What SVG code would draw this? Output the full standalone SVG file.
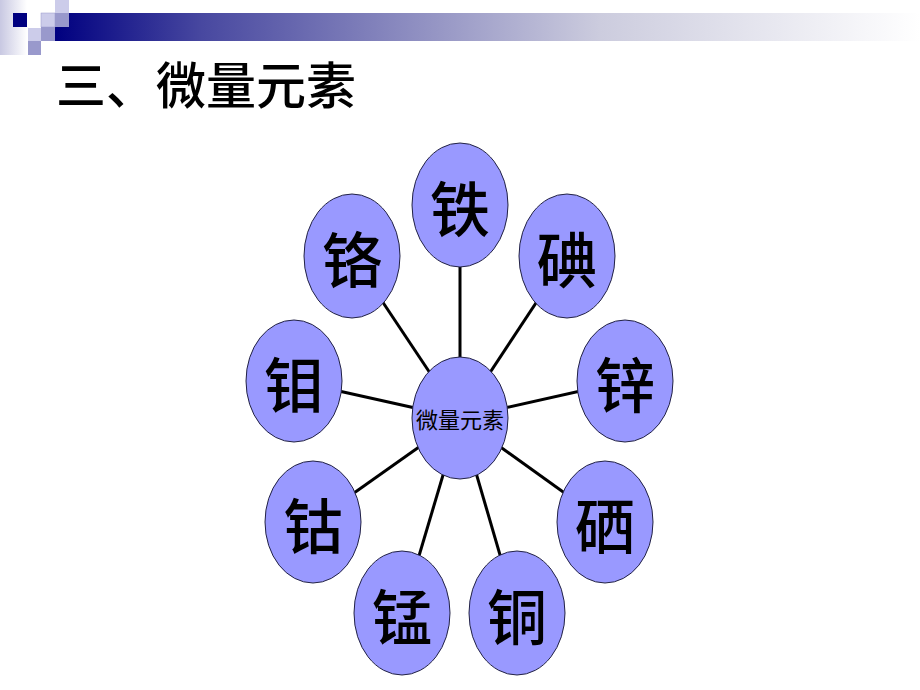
<svg xmlns="http://www.w3.org/2000/svg" width="920" height="690" viewBox="0 0 920 690">
<defs>
<linearGradient id="bar" x1="0" y1="0" x2="1" y2="0">
<stop offset="0" stop-color="#000080"/>
<stop offset="0.17" stop-color="#4848a0"/>
<stop offset="0.63" stop-color="#ccccde"/>
<stop offset="1" stop-color="#ffffff"/>
</linearGradient>
<linearGradient id="side" x1="0" y1="0" x2="1" y2="0">
<stop offset="0" stop-color="#c8c8e2"/>
<stop offset="1" stop-color="#ffffff"/>
</linearGradient>
<style>
.n ellipse{fill:#9999ff;stroke:#222244;stroke-width:1}
.n text{font-family:"Noto Sans CJK SC","Noto Sans CJK JP",sans-serif;font-size:60px;font-weight:500;text-anchor:middle;dominant-baseline:central;fill:#000}
#center text{font-size:22px;font-weight:400}
.c line{stroke:#000;stroke-width:3}
.title{font-family:"Noto Sans CJK SC","Noto Sans CJK JP",sans-serif;font-size:50px;font-weight:500;fill:#000}
</style>
</defs>
<rect width="920" height="690" fill="#fff"/>
<g id="decoration">
<rect x="0" y="0" width="27" height="55" fill="url(#side)"/>
<rect x="55" y="13" width="865" height="28" fill="url(#bar)"/>
<rect x="13" y="13" width="14" height="14" fill="#000080"/>
<rect x="55" y="0" width="14" height="13" fill="#ccccea"/>
<rect x="41" y="13" width="14" height="14" fill="#ccccea" stroke="#9999cc" stroke-width="0.5"/>
<rect x="55" y="13" width="14" height="14" fill="#9999cc"/>
<rect x="28" y="28" width="13" height="13" fill="#ccccea"/>
<rect x="41" y="27" width="14" height="14" fill="#9999cc"/>
<rect x="28" y="41" width="13" height="14" fill="#9999cc"/>
</g>
<text class="title" x="56" y="104">三、微量元素</text>
<g class="c" id="connectors">
<line x1="460" y1="418" x2="460" y2="205"/>
<line x1="460" y1="418" x2="567" y2="256"/>
<line x1="460" y1="418" x2="625" y2="381"/>
<line x1="460" y1="418" x2="605" y2="522"/>
<line x1="460" y1="418" x2="517" y2="613"/>
<line x1="460" y1="418" x2="402" y2="613"/>
<line x1="460" y1="418" x2="313" y2="522"/>
<line x1="460" y1="418" x2="294" y2="381"/>
<line x1="460" y1="418" x2="352" y2="256"/>
</g>
<g class="n" id="center"><ellipse cx="460" cy="418" rx="48" ry="61"/><text x="460" y="418">微量元素</text></g>
<g class="n" id="tie"><ellipse cx="460" cy="205" rx="48" ry="62"/><text x="460" y="205">铁</text></g>
<g class="n" id="dian"><ellipse cx="567" cy="256" rx="48" ry="62"/><text x="567" y="256">碘</text></g>
<g class="n" id="xin"><ellipse cx="625" cy="381" rx="48" ry="61"/><text x="625" y="381">锌</text></g>
<g class="n" id="xi"><ellipse cx="605" cy="522" rx="48" ry="61"/><text x="605" y="522">硒</text></g>
<g class="n" id="tong"><ellipse cx="517" cy="613" rx="48" ry="62"/><text x="517" y="613">铜</text></g>
<g class="n" id="meng"><ellipse cx="402" cy="613" rx="48" ry="62"/><text x="402" y="613">锰</text></g>
<g class="n" id="gu"><ellipse cx="313" cy="522" rx="48" ry="61"/><text x="313" y="522">钴</text></g>
<g class="n" id="mu"><ellipse cx="294" cy="381" rx="48" ry="61"/><text x="294" y="381">钼</text></g>
<g class="n" id="ge"><ellipse cx="352" cy="256" rx="48" ry="62"/><text x="352" y="256">铬</text></g>
</svg>
